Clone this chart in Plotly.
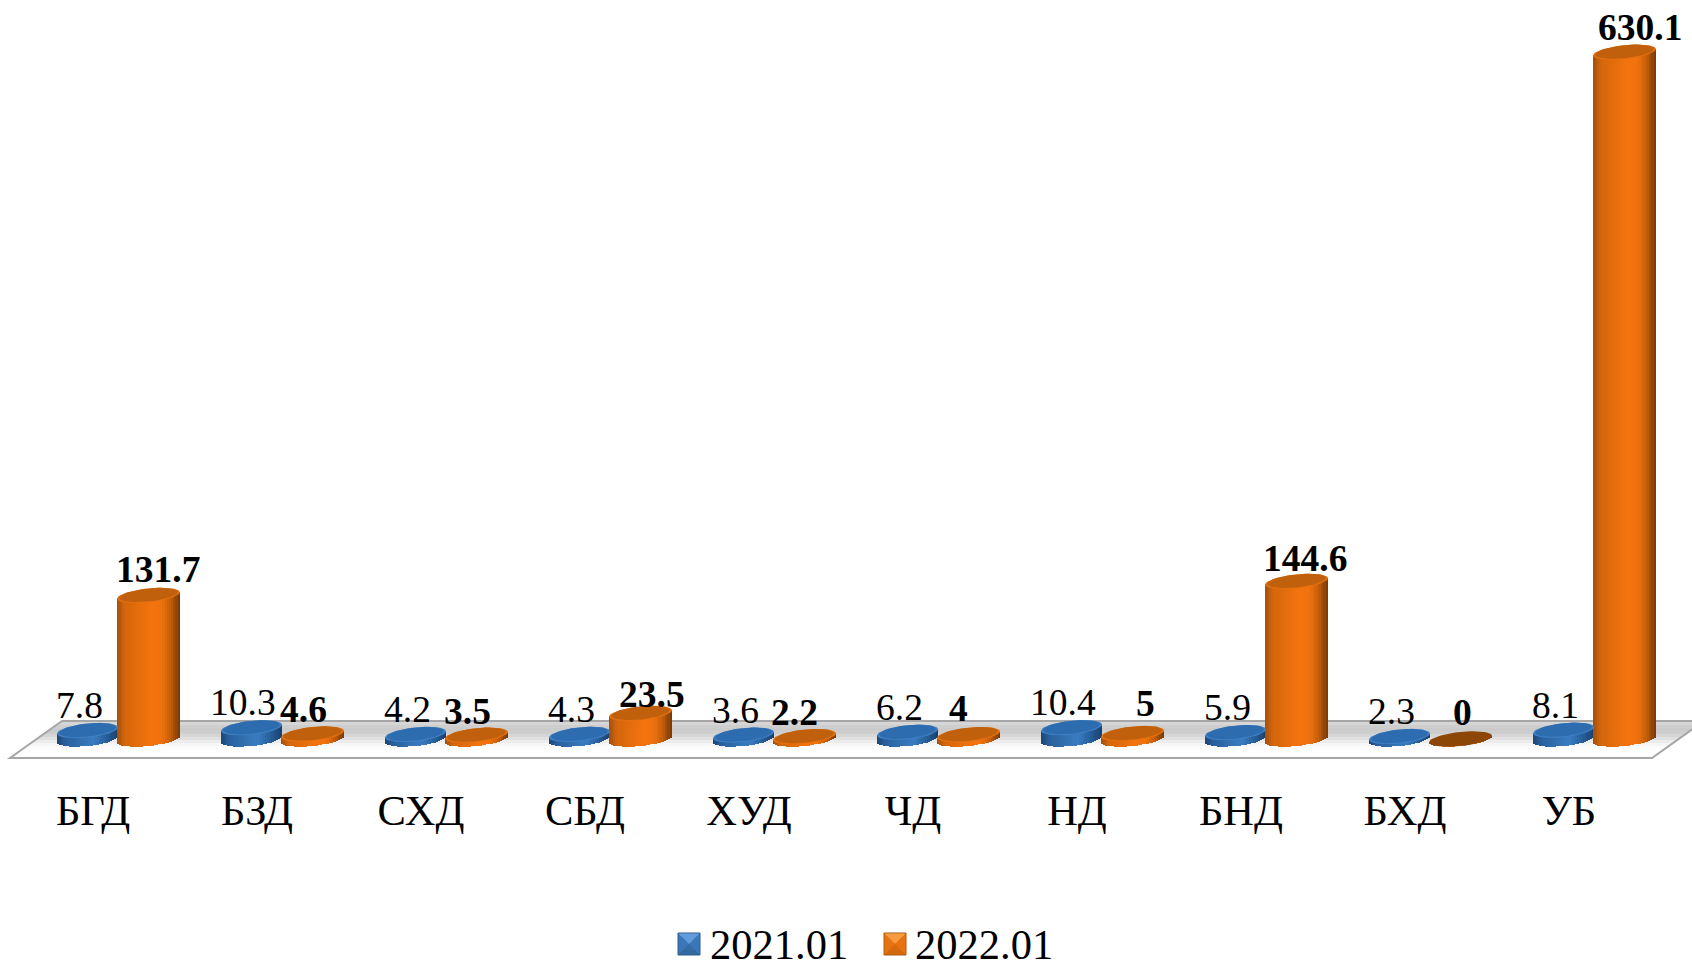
import math
import plotly.graph_objects as go

categories = ["БГД", "БЗД", "СХД", "СБД", "ХУД", "ЧД", "НД", "БНД", "БХД", "УБ"]
series_2021 = [7.8, 10.3, 4.2, 4.3, 3.6, 6.2, 10.4, 5.9, 2.3, 8.1]
series_2022 = [131.7, 4.6, 3.5, 23.5, 2.2, 4, 5, 144.6, 0, 630.1]
label_2021 = ["7.8", "10.3", "4.2", "4.3", "3.6", "6.2", "10.4", "5.9", "2.3", "8.1"]
label_2022 = ["131.7", "4.6", "3.5", "23.5", "2.2", "4", "5", "144.6", "0", "630.1"]

# Layout constants (pixels)
W, H = 1692, 961
PLOT_BOTTOM = 781
BASE_PX = 739
PX_PER_UNIT = 1.09
STEP = 164
X0 = 117.5
FONT = "Liberation Serif"

# Label nudges (pixels)
blue_dx = -38.5
blue_dy = 25
orange_dx = [40.5, 21.5, 21.7, 42, 20.6, 20.8, 44, 39, 32.5, 46.5]
orange_dy = [26, 24, 24, 19, 24, 26, 30, 23, 27, 25]

# Cylinder geometry (pixels)
BLUE_CX, BLUE_A = -30, 30.5
ORANGE_CX, ORANGE_A = 31, 31.5
MINOR, TILT = 7, 0.1
N = 29


def lerp(stops, t):
    for (t0, c0), (t1, c1) in zip(stops, stops[1:]):
        if t <= t1:
            f = (t - t0) / (t1 - t0)
            return "rgb(%d,%d,%d)" % tuple(round(a + (b - a) * f) for a, b in zip(c0, c1))
    return "rgb(%d,%d,%d)" % stops[-1][1]


blue_stops = [(0, (28, 72, 122)), (0.12, (40, 96, 156)), (0.6, (58, 124, 192)), (0.85, (38, 92, 150)), (1, (26, 66, 112))]
orange_stops = [(0, (170, 82, 10)), (0.12, (212, 102, 12)), (0.55, (244, 116, 14)), (0.72, (240, 114, 14)), (0.88, (190, 92, 10)), (1, (125, 60, 6))]

fig = go.Figure()


def add_cylinder(values, cx, a, stops):
    for k in range(N):
        u = -1 + (2 * k + 1) / N
        xs = [i + (cx + u * a) / STEP for i in range(len(values))]
        off = TILT * a * u
        bot = (-MINOR * math.sqrt(max(0, 1 - u * u)) + off) / PX_PER_UNIT
        top = [v + off / PX_PER_UNIT for v in values]
        fig.add_trace(go.Bar(
            x=xs, y=[t - bot for t in top], base=[bot] * len(values),
            width=(2 * a / N) / STEP * 1.2,
            marker=dict(color=lerp(stops, k / (N - 1)), line=dict(width=0)),
            showlegend=False, hoverinfo="skip",
        ))


def add_caps(values, cx, a, color, scale=1.0, dy=0.0, skip_zero=False, only_zero=False):
    xs, ys = [], []
    for i, v in enumerate(values):
        if (skip_zero and v == 0) or (only_zero and v != 0):
            continue
        for d in range(0, 361, 6):
            t = math.radians(d)
            px = a * scale * math.cos(t)
            py = MINOR * scale * math.sin(t) + TILT * px + dy
            xs.append(i + (cx + px) / STEP)
            ys.append(v + py / PX_PER_UNIT)
        xs.append(None)
        ys.append(None)
    fig.add_trace(go.Scatter(
        x=xs, y=ys, mode="lines", fill="toself", fillcolor=color,
        line=dict(width=0, color=color), showlegend=False, hoverinfo="skip",
    ))


add_cylinder(series_2021, BLUE_CX, BLUE_A, blue_stops)
add_cylinder(series_2022, ORANGE_CX, ORANGE_A, orange_stops)
add_caps(series_2021, BLUE_CX, BLUE_A, "#3f80c4")
add_caps(series_2021, BLUE_CX, BLUE_A, "#2e6cb0", scale=0.93, dy=0.4)
add_caps(series_2022, ORANGE_CX, ORANGE_A, "#e2700f", skip_zero=True)
add_caps(series_2022, ORANGE_CX, ORANGE_A, "#c0600d", scale=0.93, dy=0.5, skip_zero=True)
add_caps(series_2022, ORANGE_CX, ORANGE_A, "#8c4706", only_zero=True)

for name, color in [("2021.01", "#3a78bb"), ("2022.01", "#ea7410")]:
    fig.add_trace(go.Scatter(
        x=[None], y=[None], mode="markers", name=name,
        marker=dict(symbol="square", size=16, color=color, opacity=0),
    ))

annotations = []
for i, (v, t) in enumerate(zip(series_2021, label_2021)):
    annotations.append(dict(x=i, y=v, text=t, showarrow=False, xanchor="center", yanchor="middle",
                            xshift=blue_dx, yshift=blue_dy,
                            font=dict(family=FONT, size=37.5, color="#000")))
for i, (v, t) in enumerate(zip(series_2022, label_2022)):
    annotations.append(dict(x=i, y=v, text="<b>%s</b>" % t, showarrow=False, xanchor="center", yanchor="middle",
                            xshift=orange_dx[i], yshift=orange_dy[i],
                            font=dict(family=FONT, size=37.5, color="#000")))


def pap(px, py):
    return "%.5f %.5f" % (px / W, (PLOT_BOTTOM - py) / PLOT_BOTTOM)


def poly(points, fill):
    d = "M " + " L ".join(pap(*p) for p in points) + " Z"
    return dict(type="path", xref="paper", yref="paper", layer="below", path=d,
                fillcolor=fill, line=dict(width=0))


shapes = []
BACK_Y, FRONT_Y = 721, 758
SLOPE = 52 / (FRONT_Y - BACK_Y)
floor_grey = [(722, 226), (725, 214), (728, 206), (731, 203), (734, 206), (737, 214), (740, 224), (743, 236), (746, 246), (749, 252), (759, 254)]
# paint back-to-front, each slice reaching to the front edge so no seams remain
prev = BACK_Y
for y1, g in floor_grey:
    lx0 = 62 - (prev - BACK_Y) * SLOPE
    rx0 = 1704 - (prev - BACK_Y) * SLOPE
    shapes.append(poly([(lx0, prev), (rx0, prev), (1652, FRONT_Y), (10, FRONT_Y)], "rgb(%d,%d,%d)" % (g, g, g)))
    prev = y1
shapes.append(dict(type="path", xref="paper", yref="paper", layer="below",
                   path="M %s L %s L %s L %s Z" % (pap(62, BACK_Y), pap(1704, BACK_Y), pap(1652, FRONT_Y), pap(10, FRONT_Y)),
                   line=dict(width=2, color="#a6a6a6")))

# Bevelled legend keys, drawn beneath the legend
LEG_Y0, LEG_Y1 = 933, 955
for x0, top, side, low, edge in [
    (678, "#6aa6e2", "#3a76b8", "#33699f", "#2b5c94"),
    (884, "#f9a64c", "#e8720f", "#d4680e", "#b05a10"),
]:
    x1, xc, yc = x0 + 22, x0 + 11, (LEG_Y0 + LEG_Y1) / 2
    shapes.append(poly([(x0, LEG_Y0), (x0, LEG_Y1), (x1, LEG_Y1), (x1, LEG_Y0)], low))
    shapes.append(poly([(x0, LEG_Y0), (xc, yc), (x0, LEG_Y1)], side))
    shapes.append(poly([(x1, LEG_Y0), (xc, yc), (x1, LEG_Y1)], side))
    shapes.append(poly([(x0, LEG_Y0), (x1, LEG_Y0), (xc, yc)], top))
    shapes.append(dict(type="path", xref="paper", yref="paper", layer="below",
                       path="M %s L %s L %s L %s Z" % (pap(x0, LEG_Y0), pap(x1, LEG_Y0), pap(x1, LEG_Y1), pap(x0, LEG_Y1)),
                       line=dict(width=1, color=edge)))

fig.update_layout(
    width=W, height=H, autosize=False,
    margin=dict(l=0, r=0, t=0, b=H - PLOT_BOTTOM, pad=0),
    paper_bgcolor="white", plot_bgcolor="rgba(0,0,0,0)",
    barmode="overlay", bargap=0,
    xaxis=dict(
        range=[-X0 / STEP, (W - X0) / STEP],
        tickmode="array",
        tickvals=[i - 24.5 / STEP for i in range(len(categories))],
        ticktext=categories,
        tickfont=dict(family=FONT, size=42.5, color="#000"),
        ticks="", showgrid=False, zeroline=False, showline=False, fixedrange=True,
        automargin=False,
    ),
    yaxis=dict(
        range=[-(PLOT_BOTTOM - BASE_PX) / PX_PER_UNIT, BASE_PX / PX_PER_UNIT],
        visible=False, fixedrange=True,
    ),
    legend=dict(
        orientation="h", xref="container", yref="container",
        x=670 / W, xanchor="left", y=1 - 908 / H, yanchor="top",
        entrywidth=160, entrywidthmode="pixels",
        font=dict(family=FONT, size=42.5, color="#000"),
        bgcolor="rgba(0,0,0,0)", itemclick=False, itemdoubleclick=False,
    ),
    annotations=annotations,
    shapes=shapes,
    showlegend=True,
)

fig.write_html("out.html", config={"displayModeBar": False},
               post_script="document.body.style.margin='0';document.body.style.overflow='hidden';")
